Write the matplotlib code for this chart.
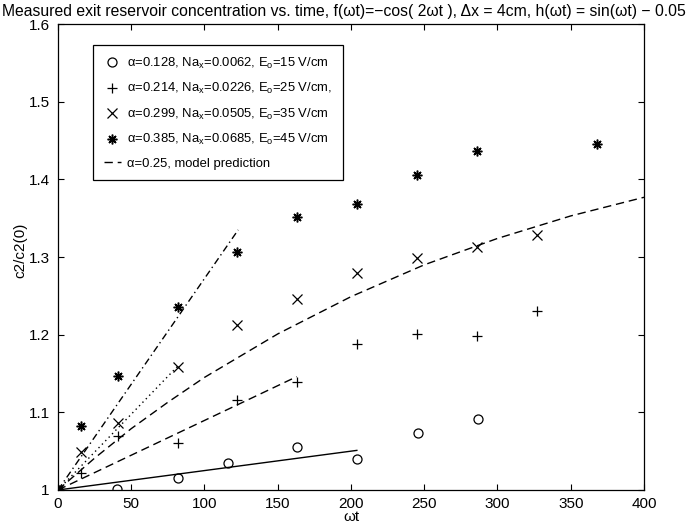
import matplotlib.pyplot as plt
import numpy as np

plt.rcParams['font.family'] = ['Liberation Sans', 'DejaVu Sans']
plt.rcParams['mathtext.fontset'] = 'custom'
plt.rcParams['mathtext.rm'] = 'Liberation Sans'
plt.rcParams['mathtext.it'] = 'Liberation Sans'
plt.rcParams['mathtext.default'] = 'regular'

wt_a = [0, 40, 82, 116, 163, 204, 246, 287]
c_a = [1.0, 1.001, 1.015, 1.035, 1.055, 1.040, 1.074, 1.092]

wt_b = [0, 16, 41, 82, 122, 163, 204, 245, 286, 327]
c_b = [1.0, 1.022, 1.069, 1.061, 1.116, 1.139, 1.188, 1.201, 1.198, 1.231]

wt_c = [0, 16, 41, 82, 122, 163, 204, 245, 286, 327]
c_c = [1.0, 1.049, 1.086, 1.158, 1.212, 1.246, 1.279, 1.299, 1.313, 1.329]

wt_d = [0, 16, 41, 82, 122, 163, 204, 245, 286, 368]
c_d = [1.0, 1.083, 1.147, 1.236, 1.307, 1.352, 1.368, 1.406, 1.437, 1.446]

# fitted straight lines (start, end)
fit_a_x = [0, 204]
fit_a_y = [1.0, 1.051]
fit_b_x = [0, 163]
fit_b_y = [1.0, 1.146]
fit_c_x = [0, 82]
fit_c_y = [1.0, 1.160]
fit_d_x = [0, 123]
fit_d_y = [1.0, 1.335]

# model prediction curve
model_x = [0, 25, 50, 75, 100, 150, 200, 250, 300, 350, 400]
model_y = [1.0, 1.041, 1.079, 1.113, 1.145, 1.201, 1.249, 1.290, 1.324, 1.353, 1.377]

labels = [r'α=0.128, Na$_x$=0.0062, E$_o$=15 V/cm',
          r'α=0.214, Na$_x$=0.0226, E$_o$=25 V/cm,',
          r'α=0.299, Na$_x$=0.0505, E$_o$=35 V/cm',
          r'α=0.385, Na$_x$=0.0685, E$_o$=45 V/cm',
          'α=0.25, model prediction']

fig = plt.figure(figsize=(6.87, 5.25), dpi=100)
ax = fig.add_axes([0.0844, 0.0667, 0.853, 0.8873])

ms = 6.5
ax.plot(wt_a, c_a, 'o', mfc='none', mec='k', ms=ms, mew=0.9, label=labels[0])
ax.plot(wt_b, c_b, '+', color='k', ms=ms + 1, mew=0.9, label=labels[1])
ax.plot(wt_c, c_c, 'x', color='k', ms=ms, mew=0.9, label=labels[2])
ax.plot(wt_d, c_d, ls='none', marker=(8, 2, 0), color='k', ms=ms + 0.5, mew=1.1, label=labels[3])
ax.plot(model_x, model_y, color='k', lw=1.0, dashes=(6, 3.5), label=labels[4])

ax.plot(fit_a_x, fit_a_y, color='k', lw=1.0)
ax.plot(fit_b_x, fit_b_y, color='k', lw=1.0, dashes=(6, 3.5))
ax.plot(fit_c_x, fit_c_y, color='k', lw=1.0, dashes=(1, 2.5))
ax.plot(fit_d_x, fit_d_y, color='k', lw=1.0, dashes=(5, 2.5, 1, 2.5))

ax.set_xlim(0, 400)
ax.set_ylim(1, 1.6)
ax.set_xticks(np.arange(0, 401, 50))
ax.set_yticks([1.0, 1.1, 1.2, 1.3, 1.4, 1.5, 1.6])
ax.set_yticklabels(['1', '1.1', '1.2', '1.3', '1.4', '1.5', '1.6'])
ax.tick_params(direction='in', top=True, right=True, length=4, width=0.8,
               labelsize=11)
ax.tick_params(axis='x', pad=5)
ax.tick_params(axis='y', pad=6)
for s in ax.spines.values():
    s.set_linewidth(0.9)

ax.set_xlabel('ωt', fontsize=11, labelpad=-1)
ax.set_ylabel('c2/c2(0)', fontsize=11)
ax.yaxis.set_label_coords(-0.052, 0.515)
fig.text(0.5, 0.978, 'Measured exit reservoir concentration vs. time, f(ωt)=−cos( 2ωt ), '
         'Δx = 4cm, h(ωt) = sin(ωt) − 0.05', ha='center', va='center', fontsize=11.3)

leg = ax.legend(loc='upper left', bbox_to_anchor=(0.06, 0.955), fontsize=9.4,
                frameon=True, fancybox=False, edgecolor='k', framealpha=1,
                handlelength=1.3, handletextpad=0.5, labelspacing=0.8,
                borderpad=0.8, borderaxespad=0)
leg.get_frame().set_linewidth(0.9)

fig.savefig('out.png', dpi=100)
